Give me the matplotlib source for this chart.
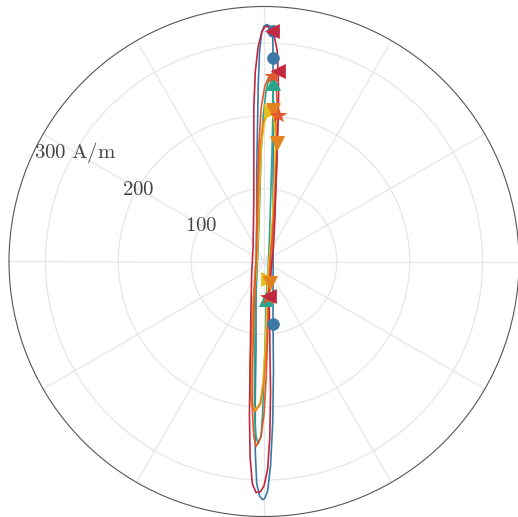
import numpy as np
import matplotlib
matplotlib.use("Agg")
import matplotlib.pyplot as plt

plt.rcParams['mathtext.fontset'] = 'cm'

# ---- data: field components (A/m) along each closed trace ----
blue_hx = [3.7, 9, 12, 12.4, 12.5, 12.5, 12.5, 12.5, 12.5, 12.5, 12.5, 12.5, 12.4, 13, 12, 9, 5, 1, -2,
           -6, -10, -12, -12, -11, -11, -10.5, -10.5, -10.5, -10.5, -10.5, -10, -10, -9, -8, -6, -3, 0, 3.7]
blue_hy = [325, 323, 316, 279, 200, 120, 50, 20, 10, 0, -10, -20, -86, -150, -220, -280, -315, -325, -327,
           -322, -305, -260, -190, -120, -60, -20, -10, 0, 10, 20, 60, 120, 180, 240, 290, 315, 323, 325]
blue_mk_hx = [12, 12, 12]
blue_mk_hy = [316, 279, -86]

teal_hx = [11, 12.4, 12.4, 11, 9, 7, 6.5, 6, 5.5, 5, 3, 2, 0, -2, -4, -8,
           -11, -13, -13, -12, -10, -9.5, -9, -8.5, -8, -6, -4, -1, 3, 7, 11]
teal_hy = [257, 245, 212, 150, 80, 20, 10, 0, -10, -20, -52, -100, -160, -210, -240, -250,
           -240, -210, -150, -80, -20, -10, 0, 10, 20, 80, 150, 200, 235, 252, 257]
teal_mk_hx = [12.4, 12.4, 3]
teal_mk_hy = [245, 212, -52]

yellow_hx = [9.6, 14, 16, 15, 12, 9, 8, 7, 6.5, 6, 5.5, 4, 2, -1, -5, -12.4,
             -16, -18, -18, -16, -13, -11.5, -11, -10, -9.5, -9, -8, -6, -4, 0, 5, 9.6]
yellow_hy = [206, 195, 170, 120, 60, 20, 10, 0, -10, -20, -24, -70, -120, -165, -195, -205,
             -195, -175, -140, -90, -40, -20, -10, 0, 10, 20, 50, 110, 160, 190, 204, 206]
yellow_mk_hx = [9.6, 5.5]
yellow_mk_hy = [206, -24]

orange_hx = [12, 16, 18, 17, 14, 11.5, 11, 10, 9.5, 9, 8, 6, 3, 0, -5, -12,
             -17, -19, -19, -17, -14, -12.5, -12, -11, -10.5, -10, -9, -7, -5, -1, 5, 12]
orange_hy = [209, 195, 163, 120, 60, 20, 10, 0, -10, -20, -30, -70, -120, -165, -195, -206,
             -197, -178, -140, -90, -40, -20, -10, 0, 10, 20, 50, 110, 160, 192, 206, 209]
orange_mk_hx = [12, 18, 8]
orange_mk_hy = [208, 163, -30]

vermil_hx = [10.6, 13, 17, 19, 18, 15, 11, 10, 9, 8.5, 8, 6, 5, 3, 0, -4,
             -11, -14, -16, -16, -14, -12, -11.5, -11, -10.5, -10, -9, -7, -4, 1, 6, 10.6]
vermil_hy = [256, 254, 235, 201, 150, 90, 30, 20, 10, 0, -10, -49, -100, -160, -210, -240,
             -254, -240, -205, -150, -80, -20, -10, 0, 10, 40, 100, 160, 210, 240, 252, 256]
vermil_mk_hx = [13, 19, 6]
vermil_mk_hy = [254, 201, -49]

red_hx = [5.5, 10, 14, 18, 19.3, 20, 19, 17, 15, 13, 12, 11, 10, 9, 7, 8, 9, 8, 5, 0,
          -5, -11, -16, -19, -20, -19, -18, -17, -16.5, -16, -15.5, -15, -14, -14, -14, -12, -8, -3, 1, 5.5]
red_hy = [322.5, 319, 310, 290, 261, 230, 180, 120, 60, 20, 10, 0, -10, -20, -48, -110, -180, -240, -285, -308,
          -316, -317, -305, -270, -210, -140, -70, -20, -10, 0, 10, 20, 80, 150, 210, 260, 295, 315, 322, 322.5]
red_mk_hx = [11, 19, 7]
red_mk_hy = [316, 261, -48]

r_ticks = [100, 200, 300]
r_tick_labels = [r'$100$', r'$200$', r'$300\ \mathrm{A/m}$']

series = [
    (blue_hx, blue_hy, blue_mk_hx, blue_mk_hy, '#3b78a6', 'o', 1.2, 8.5),
    (teal_hx, teal_hy, teal_mk_hx, teal_mk_hy, '#2ba58b', '^', 1.2, 10),
    (yellow_hx, yellow_hy, yellow_mk_hx, yellow_mk_hy, '#e6be1e', '>', 1.6, 10),
    (orange_hx, orange_hy, orange_mk_hx, orange_mk_hy, '#e3831f', 'v', 1.2, 10),
    (vermil_hx, vermil_hy, vermil_mk_hx, vermil_mk_hy, '#e4582d', '*', 1.2, 11.5),
    (red_hx, red_hy, red_mk_hx, red_mk_hy, '#c2283f', '<', 1.2, 10),
]

fig = plt.figure(figsize=(5.18, 5.17), dpi=100)
ax = fig.add_axes([9 / 518, 0.5 / 517, 510 / 518, 510 / 517], projection='polar')

for hx, hy, mhx, mhy, col, mk, lw, ms in series:
    hx = np.asarray(hx, float)
    hy = np.asarray(hy, float)
    th = np.unwrap(np.arctan2(hy, hx))
    r = np.hypot(hx, hy)
    ax.plot(th, r, color=col, lw=lw, zorder=3)
    mth = np.arctan2(mhy, mhx)
    mr = np.hypot(mhx, mhy)
    ax.plot(mth, mr, linestyle='none', marker=mk, color=col, ms=ms,
            mec=col, mew=0.5, zorder=4)

ax.set_rlim(0, 350)
ax.set_thetagrids(np.arange(0, 360, 30), labels=[''] * 12)
ax.set_rgrids(r_ticks, labels=[''] * len(r_ticks))
ax.grid(True, color='#e6e6e6', lw=0.9)
ax.spines['polar'].set_color('#555555')
ax.spines['polar'].set_linewidth(0.8)
ax.tick_params(length=0)

for rv, lab in zip(r_ticks, r_tick_labels):
    ax.text(np.deg2rad(150), rv, lab, ha='center', va='center', fontsize=15,
            color='#444444', zorder=5)

fig.savefig('out.png', dpi=100)
